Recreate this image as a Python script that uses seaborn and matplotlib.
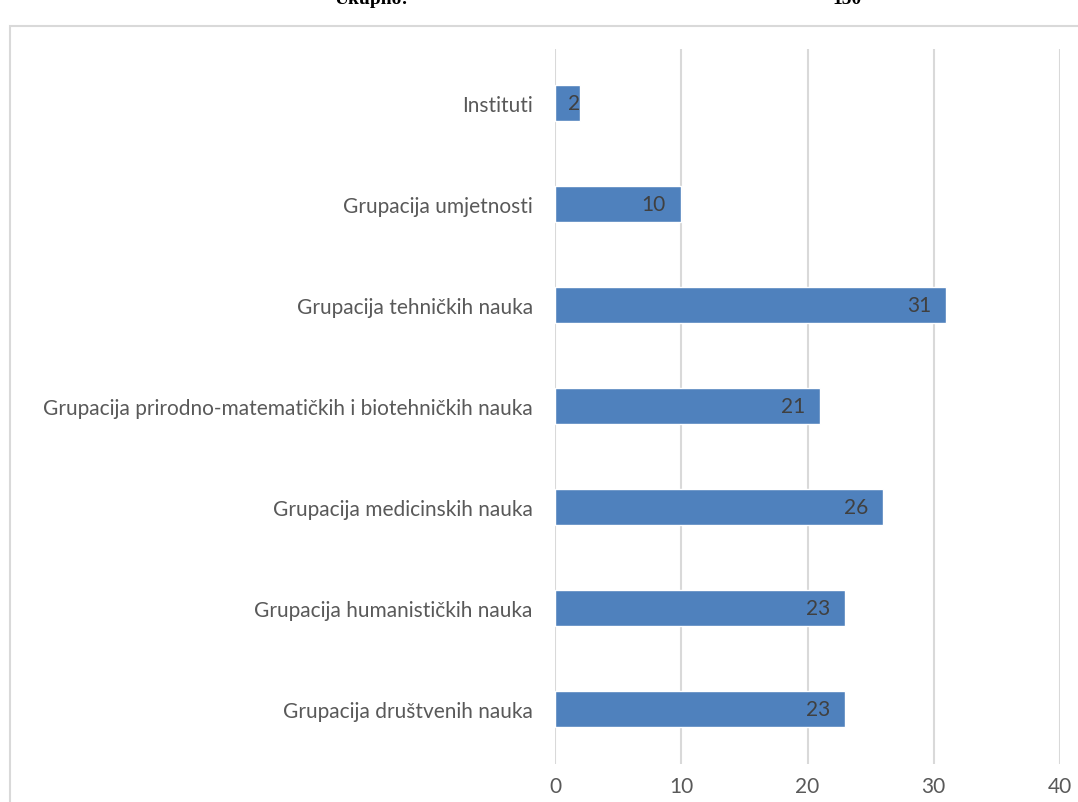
import matplotlib
matplotlib.use("Agg")
import matplotlib.pyplot as plt
import seaborn as sns
import pandas as pd
from matplotlib.patches import Rectangle

categories = [
    "Instituti",
    "Grupacija umjetnosti",
    "Grupacija tehničkih nauka",
    "Grupacija prirodno-matematičkih i biotehničkih nauka",
    "Grupacija medicinskih nauka",
    "Grupacija humanističkih nauka",
    "Grupacija društvenih nauka",
]
values = [2, 10, 31, 21, 26, 23, 23]
x_ticks = [0, 10, 20, 30, 40]

df = pd.DataFrame({"kategorija": categories, "broj": values})

sns.set_theme(style="white")
plt.rcParams["font.family"] = ["Lato", "DejaVu Sans"]

W, H = 1078, 803
fig = plt.figure(figsize=(W / 100, H / 100), dpi=100)
fig.patch.set_facecolor("white")

# chart frame (light grey border, cut by the image edges)
fig.patches.append(Rectangle((10 / W, -0.1), 1.2, 1 - 27 / H + 0.1,
                             transform=fig.transFigure, fill=False,
                             edgecolor="#d9d9d9", linewidth=1.5))

# partially cut text at the top
fig.text(335 / W, 1 - 4 / H, "Ukupno:", family="Liberation Serif",
         weight="bold", fontsize=14, va="baseline", ha="left", color="black")
fig.text(832 / W, 1 - 4 / H, "150", family="Liberation Serif",
         weight="bold", fontsize=14, va="baseline", ha="left", color="black")

ax = fig.add_axes([555 / W, 1 - 765 / H, 505 / W, 715 / H])
sns.barplot(data=df, x="broj", y="kategorija", orient="h", color="#4f81bd",
            saturation=1, width=0.36, ax=ax, order=categories)

ax.set_xlim(0, 40)
ax.set_ylim(6.545, -0.535)
ax.set_xticks(x_ticks)
ax.set_xticklabels([str(t) for t in x_ticks])
ax.set_xlabel("")
ax.set_ylabel("")
for s in ax.spines.values():
    s.set_visible(False)
ax.grid(axis="x", color="#d9d9d9", linewidth=1.5)
ax.set_axisbelow(True)
ax.tick_params(axis="both", length=0, labelsize=15, colors="#595959")
ax.tick_params(axis="x", pad=9)
ax.tick_params(axis="y", pad=16)

for p, v in zip(ax.patches, values):
    off = -11 if v >= 5 else 0
    ax.annotate(str(v), (p.get_width(), p.get_y() + p.get_height() / 2),
                xytext=(off, 0), textcoords="offset points",
                ha="right", va="center", fontsize=15, color="#404040")

fig.savefig("out.png", dpi=100)
